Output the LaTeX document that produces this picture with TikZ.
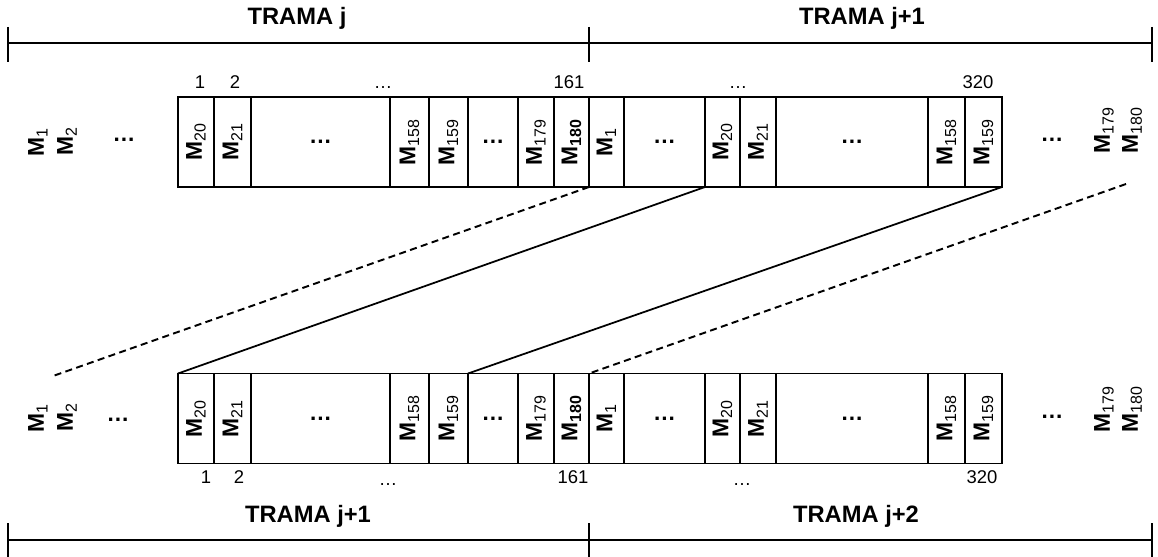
\documentclass[tikz,border=0pt]{standalone}
\usepackage{fontspec}
\setmainfont{Liberation Sans}
\newcommand{\Mlab}[1]{\rotatebox{90}{\textbf{M}\textsubscript{#1}}}
\newcommand{\Mbold}[1]{\rotatebox{90}{\textbf{M\textsubscript{#1}}}}

\begin{document}
\begin{tikzpicture}[x=0.02cm,y=-0.02cm,
  cell/.style={draw,line width=1pt,minimum height=1.8cm,inner sep=0pt,outer sep=0pt,font=\fontsize{13}{15}\selectfont},
  tag/.style={inner sep=0pt,font=\fontsize{13}{15}\selectfont},
  idx/.style={anchor=base,inner sep=0pt,font=\fontsize{10.5}{12}\selectfont},
  frame/.style={anchor=base,inner sep=0pt,font=\fontsize{13.5}{15}\selectfont\bfseries},
  bar/.style={line width=1.1pt},
  link/.style={line width=1pt},
  linkdash/.style={link,line width=1.1pt,dash pattern=on 4pt off 2.5pt}]
\useasboundingbox (0,0) rectangle (1158,557);

% frame bars
\coordinate (ta) at (8,43);
\coordinate (tb) at (589,43);
\coordinate (tc) at (1152,43);
\coordinate (ba) at (8,540);
\coordinate (bb) at (589,540);
\coordinate (bc) at (1152,540);
\draw[bar] (ta) -- (tc);
\draw[bar] (ba) -- (bc);
\foreach \p in {ta,tb,tc} \draw[bar] (\p) ++(0,-16) -- ++(0,35);
\foreach \p in {ba,bb,bc} \draw[bar] (\p) ++(0,-17) -- ++(0,34);
\node[frame] (fj) at (297,25) {TRAMA j};
\node[frame] (fj1) at (862,25) {TRAMA j+1};
\node[frame] (gj1) at (308,522) {TRAMA j+1};
\node[frame] (gj2) at (856,522) {TRAMA j+2};

% upper row
\node[tag] (um1) at (38,142) {\Mlab{1}};
\node[tag] (um2) at (67,141) {\Mlab{2}};
\node[tag] (ud1) at (124,140) {\textbf{\dots}};
\node[cell,minimum width=0.72cm] (t1) at (196,142) {\Mlab{20}};
\node[cell,minimum width=0.74cm] (t2) at (232.5,142) {\Mlab{21}};
\node[cell,minimum width=2.78cm] (t3) at (320.5,142) {\textbf{\dots}};
\node[cell,minimum width=0.78cm] (t4) at (409.5,142) {\Mlab{158}};
\node[cell,minimum width=0.78cm] (t5) at (448.5,142) {\Mlab{159}};
\node[cell,minimum width=1.00cm] (t6) at (493,142) {\textbf{\dots}};
\node[cell,minimum width=0.72cm] (t7) at (536,142) {\Mlab{179}};
\node[cell,minimum width=0.70cm] (t8) at (571.5,142) {\Mbold{180}};
\node[cell,minimum width=0.70cm] (t9) at (606.5,142) {\Mlab{1}};
\node[cell,minimum width=1.62cm] (t10) at (664.5,142) {\textbf{\dots}};
\node[cell,minimum width=0.70cm] (t11) at (722.5,142) {\Mlab{20}};
\node[cell,minimum width=0.72cm] (t12) at (758,142) {\Mlab{21}};
\node[cell,minimum width=3.04cm] (t13) at (852,142) {\textbf{\dots}};
\node[cell,minimum width=0.74cm] (t14) at (946.5,142) {\Mlab{158}};
\node[cell,minimum width=0.74cm] (t15) at (983.5,142) {\Mlab{159}};
\node[tag] (ud2) at (1052,140) {\textbf{\dots}};
\node[tag] (um179) at (1104,130) {\Mlab{179}};
\node[tag] (um180) at (1132,130) {\Mlab{180}};
\node[idx] (ui1) at (200,89) {1};
\node[idx] (ui2) at (235,89) {2};
\node[idx] (ui3) at (383,89) {\dots};
\node[idx] (ui161) at (569,89) {161};
\node[idx] (ui4) at (738,89) {\dots};
\node[idx] (ui320) at (978,89) {320};

% lower row
\node[tag] (lm1) at (38,418) {\Mlab{1}};
\node[tag] (lm2) at (67,417) {\Mlab{2}};
\node[tag] (ld1) at (118,420) {\textbf{\dots}};
\node[cell,minimum width=0.72cm] (b1) at (196,418.5) {\Mlab{20}};
\node[cell,minimum width=0.74cm] (b2) at (232.5,418.5) {\Mlab{21}};
\node[cell,minimum width=2.78cm] (b3) at (320.5,418.5) {\textbf{\dots}};
\node[cell,minimum width=0.78cm] (b4) at (409.5,418.5) {\Mlab{158}};
\node[cell,minimum width=0.78cm] (b5) at (448.5,418.5) {\Mlab{159}};
\node[cell,minimum width=1.00cm] (b6) at (493,418.5) {\textbf{\dots}};
\node[cell,minimum width=0.72cm] (b7) at (536,418.5) {\Mlab{179}};
\node[cell,minimum width=0.70cm] (b8) at (571.5,418.5) {\Mbold{180}};
\node[cell,minimum width=0.70cm] (b9) at (606.5,418.5) {\Mlab{1}};
\node[cell,minimum width=1.62cm] (b10) at (664.5,418.5) {\textbf{\dots}};
\node[cell,minimum width=0.70cm] (b11) at (722.5,418.5) {\Mlab{20}};
\node[cell,minimum width=0.72cm] (b12) at (758,418.5) {\Mlab{21}};
\node[cell,minimum width=3.04cm] (b13) at (852,418.5) {\textbf{\dots}};
\node[cell,minimum width=0.74cm] (b14) at (946.5,418.5) {\Mlab{158}};
\node[cell,minimum width=0.74cm] (b15) at (983.5,418.5) {\Mlab{159}};
\node[tag] (ld2) at (1052,417) {\textbf{\dots}};
\node[tag] (lm179) at (1104,409) {\Mlab{179}};
\node[tag] (lm180) at (1132,409) {\Mlab{180}};
\node[idx] (li1) at (206,483) {1};
\node[idx] (li2) at (239,483) {2};
\node[idx] (li3) at (388,485) {\dots};
\node[idx] (li161) at (573,483) {161};
\node[idx] (li4) at (742,485) {\dots};
\node[idx] (li320) at (982,483) {320};

% links between the rows
\coordinate (dl) at (53,376);
\coordinate (dr) at (1126,184);
\draw[linkdash] (t9.south west) -- (dl);
\draw[link] (t11.south west) -- (b1.north west);
\draw[link] (t15.south east) -- (b6.north west);
\draw[linkdash] (dr) -- (b9.north west);
\end{tikzpicture}
\end{document}
